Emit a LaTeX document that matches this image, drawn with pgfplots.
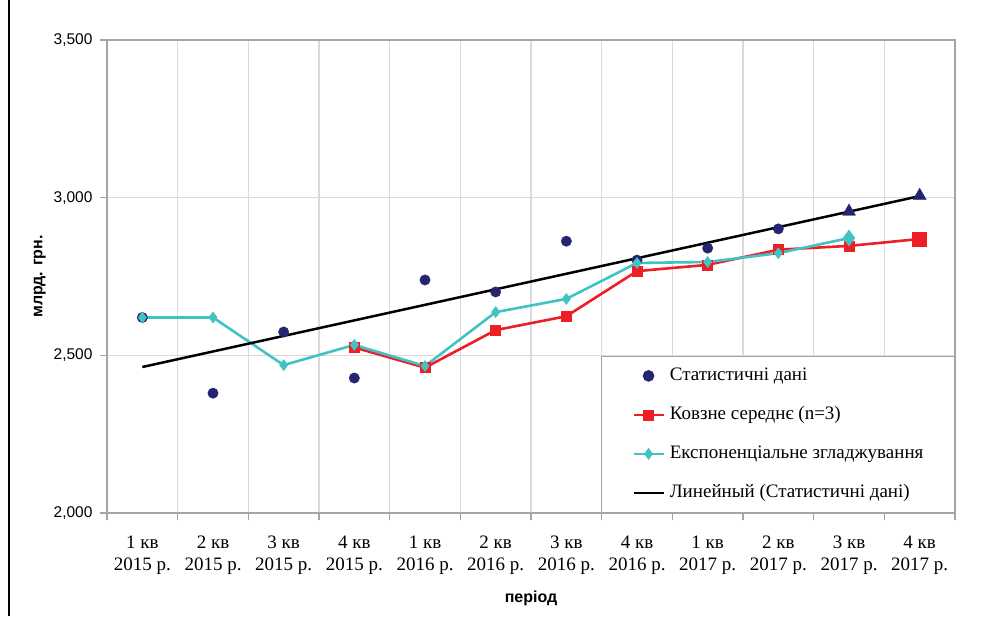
\documentclass[border=0pt]{standalone}
\usepackage{fontspec}
\setmainfont{Liberation Serif}
\setsansfont{Liberation Sans}
\usepackage{pgfplots}
\pgfplotsset{compat=1.18}
\definecolor{navy}{RGB}{36,36,112}
\definecolor{mared}{RGB}{237,30,38}
\definecolor{esteal}{RGB}{66,194,194}
\definecolor{gridgray}{RGB}{218,218,218}
\definecolor{framegray}{RGB}{165,165,165}
\begin{document}
\begin{tikzpicture}
\path[use as bounding box] (0pt,0pt) rectangle (987pt,616pt);
\draw[line width=2pt] (9pt,0pt) -- (9pt,616pt);
\begin{axis}[
  at={(107pt,103pt)}, anchor=south west,
  scale only axis, width=848pt, height=473pt,
  xmin=0.5, xmax=12.5, ymin=2000, ymax=3500,
  xtick={0.5,1.5,2.5,3.5,4.5,5.5,6.5,7.5,8.5,9.5,10.5,11.5,12.5},
  xticklabels={},
  extra x ticks={1,2,3,4,5,6,7,8,9,10,11,12},
  extra x tick labels={{1 кв\\2015 р.},{2 кв\\2015 р.},{3 кв\\2015 р.},{4 кв\\2015 р.},
    {1 кв\\2016 р.},{2 кв\\2016 р.},{3 кв\\2016 р.},{4 кв\\2016 р.},
    {1 кв\\2017 р.},{2 кв\\2017 р.},{3 кв\\2017 р.},{4 кв\\2017 р.}},
  extra x tick style={grid=none, major tick length=0pt,
    xticklabel style={align=center, font=\fontsize{19}{22}\selectfont, yshift=-19pt}},
  ytick={2000,2500,3000,3500},
  scaled y ticks=false,
  yticklabel style={font=\sffamily\fontsize{15.5}{18}\selectfont, xshift=-4pt,
    /pgf/number format/1000 sep={,}, /pgf/number format/assume math mode=true},
  xmajorgrids=true, ymajorgrids=true,
  grid style={draw=gridgray, line width=1.2pt},
  axis line style={draw=framegray, line width=1.6pt},
  tick style={draw=framegray, line width=1.2pt},
  tick align=outside, tick pos=left,
  major tick length=7pt,
  xlabel={період},
  ylabel={млрд. грн.},
  xlabel style={font=\sffamily\bfseries\fontsize{16}{19}\selectfont, yshift=-3pt},
  ylabel style={font=\sffamily\bfseries\fontsize{16}{19}\selectfont, yshift=1pt},
  legend image code/.code={\draw[mark repeat=2,mark phase=2,#1]
    plot coordinates {(0pt,0pt) (15pt,0pt) (30pt,0pt)};},
  legend style={at={(1,0)}, anchor=south east, draw=framegray, line width=1.2pt,
    fill=white, font=\fontsize{19}{22}\selectfont,
    inner xsep=31pt, inner ysep=10.5pt, column sep=5pt, row sep=21pt,
    nodes={inner sep=0pt, text height=14pt, text depth=4pt}},
  legend cell align=left,
]
\addplot[only marks, mark=*, mark size=5.2pt, color=navy] coordinates {
  (1,2620) (2,2380) (3,2574) (4,2428) (5,2739) (6,2701)
  (7,2862) (8,2802) (9,2840) (10,2901)};
\addlegendentry{Статистичні дані}

\addplot[color=mared, line width=2.6pt, mark=square*, mark size=5pt,
  mark options={line width=0.5pt}] coordinates {
  (4,2525) (5,2461) (6,2580) (7,2624) (8,2767) (9,2787)
  (10,2835) (11,2847) (12,2869)};
\addlegendentry{Ковзне середнє (n=3)}
\addplot[forget plot, only marks, color=mared, mark=square*, mark size=7pt]
  coordinates {(12,2869)};

\addplot[color=esteal, line width=2.6pt, mark=diamond*, mark size=5.5pt,
  mark options={line width=0.5pt}] coordinates {
  (1,2620) (2,2620) (3,2469) (4,2533) (5,2466) (6,2637)
  (7,2679) (8,2793) (9,2796) (10,2824) (11,2872)};
\addlegendentry{Експоненціальне згладжування}
\addplot[forget plot, only marks, color=esteal, mark=diamond*, mark size=8pt]
  coordinates {(11,2872)};

\addplot[color=black, line width=2.5pt, no marks] coordinates {
  (1,2463) (12,3005)};
\addlegendentry{Линейный (Статистичні дані)}

\addplot[forget plot, only marks, color=navy, mark=triangle*, mark size=7.5pt]
  coordinates {(11,2956) (12,3006)};
\end{axis}
\end{tikzpicture}
\end{document}
